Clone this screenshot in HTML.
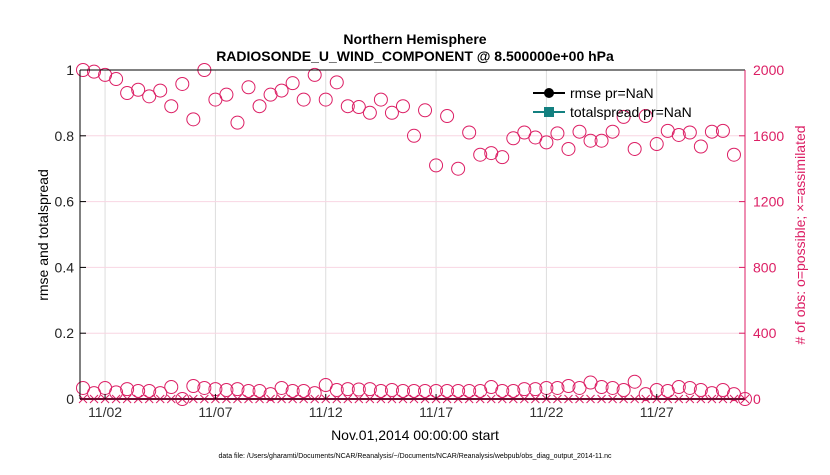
<!DOCTYPE html>
<html><head><meta charset="utf-8">
<style>
body{margin:0;background:#fff;width:830px;height:470px;overflow:hidden;font-family:"Liberation Sans",sans-serif}
</style></head>
<body>
<svg id="chart" width="830" height="470" xmlns="http://www.w3.org/2000/svg" font-family="Liberation Sans, sans-serif">
<text x="415" y="44" text-anchor="middle" font-size="14" font-weight="bold">Northern Hemisphere</text>
<text x="415" y="61" text-anchor="middle" font-size="14" font-weight="bold">RADIOSONDE_U_WIND_COMPONENT @ 8.500000e+00 hPa</text>
<g id="grid"></g>
<g id="marks"></g>
<g id="axes"></g>
<g>
<line x1="533" y1="93" x2="565" y2="93" stroke="#000" stroke-width="2"/>
<circle cx="549" cy="93" r="5" fill="#000"/>
<text x="570" y="98" font-size="14">rmse pr=NaN</text>
<line x1="533" y1="112" x2="565" y2="112" stroke="#138080" stroke-width="2"/>
<rect x="544" y="107" width="10" height="10" fill="#138080"/>
<text x="570" y="117" font-size="14">totalspread pr=NaN</text>
</g>
<text transform="translate(48,235) rotate(-90)" text-anchor="middle" font-size="14">rmse and totalspread</text>
<text transform="translate(805,235) rotate(-90)" text-anchor="middle" font-size="14" fill="#dc1e64"># of obs: o=possible; ×=assimilated</text>
<text x="415" y="440" text-anchor="middle" font-size="14">Nov.01,2014 00:00:00 start</text>
<text x="415" y="458" text-anchor="middle" font-size="7">data file: /Users/gharamti/Documents/NCAR/Reanalysis/~/Documents/NCAR/Reanalysis/webpub/obs_diag_output_2014-11.nc</text>
</svg>
<script>
const possibleTop = [2000,1990,1970,1945,1860,1880,1840,1875,1780,1915,1700,2000,1820,1850,1680,1895,1780,1850,1875,1920,1820,1970,1820,1925,1780,1775,1740,1820,1740,1780,1600,1755,1420,1720,1400,1620,1485,1495,1470,1585,1620,1590,1560,1615,1520,1625,1570,1570,1625,1715,1520,1720,1550,1630,1605,1620,1535,1625,1630,1485];
const possibleBottom = [67,36,67,40,60,49,49,36,73,0,79,67,60,55,60,49,49,30,67,49,49,36,85,55,60,58,60,49,55,49,49,49,49,49,49,49,49,73,49,49,60,60,67,67,79,67,100,73,67,55,105,30,55,49,73,67,55,36,55,30,0];
const xTickLabels = ["11/02","11/07","11/12","11/17","11/22","11/27"];
const xTickDays = [1,6,11,16,21,26];
const leftTicks = [0,0.2,0.4,0.6,0.8,1];
const rightTicks = [0,400,800,1200,1600,2000];
const NS="http://www.w3.org/2000/svg";
const L=80,R=745,T=70,B=399;
const dayMin=-0.136, dayMax=30.0;
const xs=d=>L+(d-dayMin)/(dayMax-dayMin)*(R-L);
const yl=v=>B-v*(B-T);
const yr=v=>B-v/2000*(B-T);
const MAG="#dc1e64";
function mk(tag,attrs,parent){const e=document.createElementNS(NS,tag);for(const k in attrs)e.setAttribute(k,attrs[k]);parent.appendChild(e);return e;}
const grid=document.getElementById('grid'),marks=document.getElementById('marks'),axes=document.getElementById('axes');
xTickDays.forEach((d,i)=>{
 const x=xs(d);
 const g=mk('line',{x1:x,y1:T,x2:x,y2:B,stroke:'#ddd','stroke-width':1},grid);
 
 
 mk('line',{x1:x,y1:B,x2:x,y2:B-5,stroke:'#000'},axes);
 const t=mk('text',{x:x,y:B+18,'text-anchor':'middle','font-size':14,fill:'#333'},axes);
 t.textContent=xTickLabels[i];
 
 
});
rightTicks.forEach(v=>{
 const y=yr(v);
 if(v>0&&v<2000){const g=mk('line',{x1:L,y1:y,x2:R,y2:y,stroke:'#f8d6e2','stroke-width':1},grid);
 
 }
 mk('line',{x1:R,y1:y,x2:R-6,y2:y,stroke:MAG},axes);
 const t=mk('text',{x:R+8,y:y+5,'font-size':14,fill:MAG},axes);
 t.textContent=v;
 
 
});
leftTicks.forEach(v=>{
 const y=yl(v);
 mk('line',{x1:L,y1:y,x2:L+6,y2:y,stroke:'#000'},axes);
 const t=mk('text',{x:L-6,y:y+5,'font-size':14,'text-anchor':'end',fill:'#222'},axes);
 t.textContent=(v===0||v===1)?String(v):v.toFixed(1);
 
 
});
mk('line',{x1:L,y1:T,x2:L,y2:B,stroke:'#000'},axes);
mk('line',{x1:L,y1:T,x2:R,y2:T,stroke:'#000'},axes);
mk('line',{x1:L,y1:B,x2:R,y2:B,stroke:'#000'},axes);
mk('line',{x1:R,y1:T,x2:R,y2:B,stroke:MAG},axes);
// assimilated baseline
const bl=mk('line',{x1:L,y1:B,x2:R,y2:B,stroke:MAG,'stroke-width':2},marks);


for(let i=0;i<=60;i++){
 const x=xs(i*0.5);
 if(i<possibleTop.length){
  const c=mk('circle',{cx:x,cy:yr(possibleTop[i]),r:6.5,fill:'none',stroke:MAG,'stroke-width':1},marks);
  
  
 }
 const c2=mk('circle',{cx:x,cy:yr(possibleBottom[i]),r:6.5,fill:'none',stroke:MAG,'stroke-width':1},marks);
 
 
 const p=mk('path',{d:`M${x-4},${B-4}L${x+4},${B+4}M${x-4},${B+4}L${x+4},${B-4}`,stroke:MAG,'stroke-width':1},marks);
 
 
}
</script>
</body></html>
